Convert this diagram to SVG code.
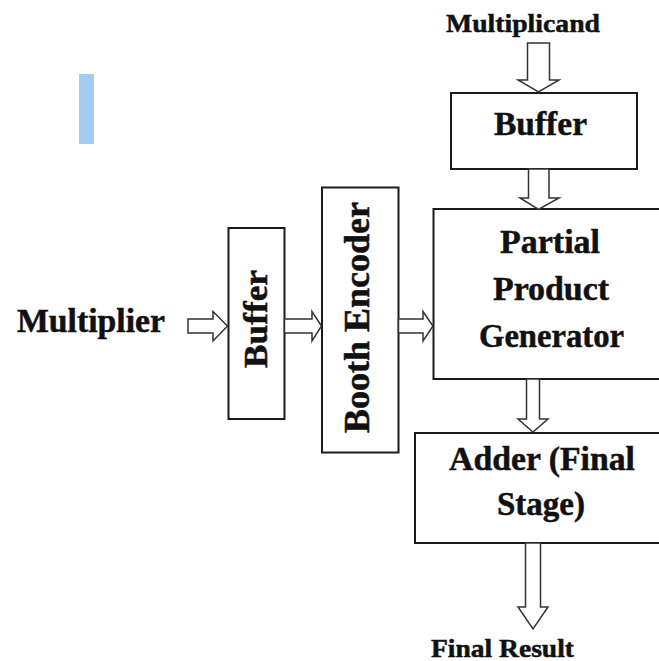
<svg xmlns="http://www.w3.org/2000/svg" width="659" height="661" viewBox="0 0 659 661">
<style>
.box{fill:#fff;stroke:#1a1a1a;stroke-width:2}
.arr{fill:#fff;stroke:#333;stroke-width:1.5;stroke-linejoin:miter}
text{font-family:"Liberation Serif","Times New Roman",serif;font-weight:bold;fill:#111;stroke:#111;stroke-width:0.5;text-anchor:middle}
</style>
<rect x="0" y="0" width="659" height="661" fill="#fff"/>
<rect x="79" y="74" width="15" height="70" fill="#a3cdf0"/>
<g id="multiplicand-label"><text x="523" y="31.5" font-size="26" textLength="154" lengthAdjust="spacingAndGlyphs">Multiplicand</text></g>
<g id="buffer-top"><rect class="box" x="451" y="93" width="186" height="76"/><text x="540.5" y="135" font-size="33" textLength="93" lengthAdjust="spacingAndGlyphs">Buffer</text></g>
<g id="multiplier-label"><text x="91" y="332" font-size="34" textLength="148" lengthAdjust="spacingAndGlyphs">Multiplier</text></g>
<g id="buffer-left"><rect class="box" x="228.5" y="228" width="56" height="191"/><text transform="translate(267,319) rotate(-90)" x="0" y="0" font-size="34" textLength="98" lengthAdjust="spacingAndGlyphs">Buffer</text></g>
<g id="booth-encoder"><rect class="box" x="322" y="187.5" width="76.5" height="265"/><text transform="translate(369,317.5) rotate(-90)" x="0" y="0" font-size="35" textLength="231" lengthAdjust="spacingAndGlyphs">Booth Encoder</text></g>
<g id="partial-product-generator"><rect class="box" x="433.5" y="209" width="240" height="170"/>
<text x="550" y="253" font-size="33" textLength="100" lengthAdjust="spacingAndGlyphs">Partial</text>
<text x="551" y="300" font-size="33" textLength="116" lengthAdjust="spacingAndGlyphs">Product</text>
<text x="551.5" y="347" font-size="33" textLength="145" lengthAdjust="spacingAndGlyphs">Generator</text></g>
<g id="adder"><rect class="box" x="415" y="433" width="260" height="110"/>
<text x="542" y="470" font-size="33" textLength="186" lengthAdjust="spacingAndGlyphs">Adder (Final</text>
<text x="541" y="515" font-size="33" textLength="88" lengthAdjust="spacingAndGlyphs">Stage)</text></g>
<g id="final-result-label"><text x="502.5" y="656.5" font-size="25" textLength="143" lengthAdjust="spacingAndGlyphs">Final Result</text></g>
<g id="connectors">
<polygon class="arr" points="527.5,43 549.5,43 549.5,80 559,80 538.5,92 518,80 527.5,80"/>
<polygon class="arr" points="528.5,169 549,169 549,198 559,198 538.5,209.5 520,198 528.5,198"/>
<polygon class="arr" points="188,319 213,319 213,311.5 227.5,326 213,341 213,333 188,333"/>
<polygon class="arr" points="284.5,319 312,319 312,311.5 321.5,326 312,341 312,333 284.5,333"/>
<polygon class="arr" points="398.5,319 423,319 423,311.5 433,326 423,341 423,333 398.5,333"/>
<polygon class="arr" points="526.5,379 539.5,379 539.5,419 548,419 533,432 518,419 526.5,419"/>
<polygon class="arr" points="525.5,543 540.5,543 540.5,607 548,607 533,629 518,607 525.5,607"/>
</g>
</svg>
